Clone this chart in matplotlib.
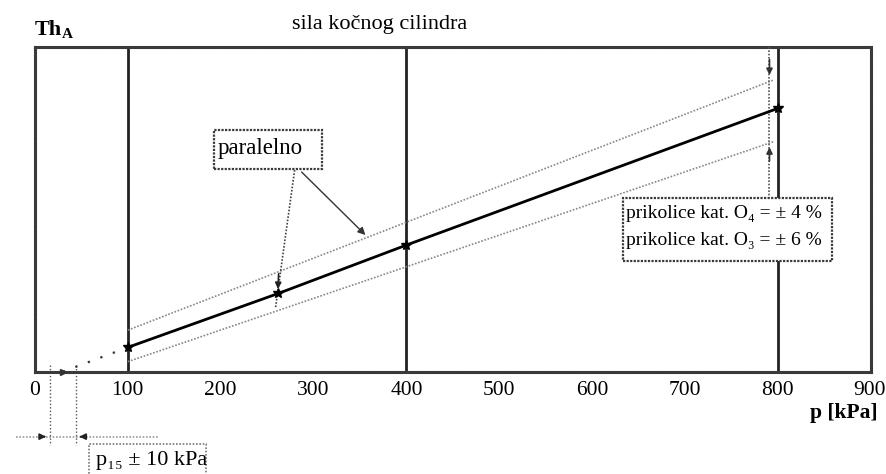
import matplotlib
matplotlib.use("Agg")
import matplotlib.pyplot as plt
from matplotlib.patches import Rectangle

plt.rcParams['font.family'] = ['Liberation Serif', 'DejaVu Serif']

# ---- data ----
p_main = [100, 262, 400, 800]
th_main = [7.5, 24.1, 39.0, 81.1]
p_ext = [30, 100]
th_ext = [0.0, 7.5]
p_tol = [100, 795]
th_upper = [12.8, 89.8]
th_lower = [3.1, 70.8]
p_vlines = [100, 400, 800]
xticks = [0, 100, 200, 300, 400, 500, 600, 700, 800, 900]
p15_band = [15.8, 43.8]
p_tol_mark = 791

title = "sila kočnog cilindra"
ylabel_main = "Th"
ylabel_sub = "A"
xlabel = "p [kPa]"
note_parallel = "paralelno"
legend_lines = ["prikolice kat. O\u2084 = \u00b1 4 %", "prikolice kat. O\u2083 = \u00b1 6 %"]
p15_text = "p\u2081\u2085 \u00b1 10 kPa"

W, H = 886, 474
fig = plt.figure(figsize=(W / 100, H / 100), dpi=100)
ax = fig.add_axes([35 / W, 1 - 371.7 / H, (870.7 - 35) / W, (371.7 - 47) / H])
ax.set_xlim(3, 900)
ax.set_ylim(0, 100)

frame_ls = (0, (1, 0.6))
for s in ax.spines.values():
    s.set_color('#3a3a3a')
    s.set_linewidth(2.2)
    s.set_linestyle(frame_ls)

ax.set_yticks([])
ax.set_xticks(xticks)
ax.set_xticklabels([str(t) for t in xticks], fontsize=15.5)
ax.tick_params(axis='x', length=0, pad=7)
lbls = ax.get_xticklabels()
lbls[-1].set_horizontalalignment('right')
lbls[-1].set_x(xticks[-1])
import matplotlib.transforms as mtrans
lbls[-1].set_transform(lbls[-1].get_transform() + mtrans.ScaledTranslation(15 / 100, 0, fig.dpi_scale_trans))

# vertical reference lines
for pv in p_vlines:
    ax.axvline(pv, color='#222222', lw=2.0, zorder=2)

# tolerance lines
ax.plot(p_tol, th_upper, color='#888888', lw=1.2, ls=(0, (1, 1)), zorder=3)
ax.plot(p_tol, th_lower, color='#888888', lw=1.2, ls=(0, (1, 1)), zorder=3)

# main line
ax.plot(p_main, th_main, color='black', lw=2.0, zorder=4)
ax.plot(p_main, th_main, ls='none', marker='*', ms=7, color='black', zorder=5)
ax.plot(p_ext, th_ext, color='#333333', lw=1.6, ls=(0, (1, 5)), zorder=4)
ax.plot([p_ext[0]], [th_ext[0]], marker='>', ms=5, color='#333333', clip_on=False, zorder=5)

# tolerance marker at 800
ax.plot([p_tol_mark, p_tol_mark], [100, 53.5], color='#555555', lw=1.2, ls=(0, (1, 1)), zorder=3)
ax.annotate('', xy=(p_tol_mark, 90.5), xytext=(p_tol_mark, 97),
            arrowprops=dict(arrowstyle='-|>', color='#333333', lw=1.2, mutation_scale=9))
ax.annotate('', xy=(p_tol_mark, 70.0), xytext=(p_tol_mark, 64),
            arrowprops=dict(arrowstyle='-|>', color='#333333', lw=1.2, mutation_scale=9))

# "paralelno" box and arrows
ax.add_patch(Rectangle((193, 62.4), 116, 12.0, fc='white', ec='#3a3a3a', lw=1.6, ls=frame_ls, zorder=6))
ax.text(197, 68.6, note_parallel, fontsize=16.5, va='center', ha='left', zorder=7)
ax.plot([279.6, 259], [62.1, 19.6], color='#444444', lw=1.2, ls=(0, (1, 1)), zorder=3)
ax.annotate('', xy=(261.5, 24.6), xytext=(262.5, 31),
            arrowprops=dict(arrowstyle='-|>', color='#222222', lw=1.2, mutation_scale=9))
ax.annotate('', xy=(358, 41.5), xytext=(285, 62.1),
            arrowprops=dict(arrowstyle='-|>', color='#333333', lw=1.0, mutation_scale=11))

# legend box
ax.add_patch(Rectangle((633, 34.1), 225, 19.4, fc='white', ec='#3a3a3a', lw=1.6, ls=frame_ls, zorder=6))
ax.text(637, 48.6, legend_lines[0], fontsize=14, va='center', ha='left', zorder=7)
ax.text(637, 40.3, legend_lines[1], fontsize=14, va='center', ha='left', zorder=7)

# p15 bracket below the axis
ax.plot([-20.6, 132], [-20, -20], color='#999999', lw=1.2, ls=(0, (1, 1)), clip_on=False)
for pb in p15_band:
    ax.plot([pb, pb], [2, -22.6], color='#555555', lw=1.0, ls=(0, (1, 1.5)), clip_on=False)
ax.annotate('', xy=(p15_band[0] - 1, -20), xytext=(p15_band[0] - 9, -20), annotation_clip=False,
            arrowprops=dict(arrowstyle='-|>', color='#222222', lw=1.2, mutation_scale=9))
ax.annotate('', xy=(p15_band[1] + 1, -20), xytext=(p15_band[1] + 9, -20), annotation_clip=False,
            arrowprops=dict(arrowstyle='-|>', color='#222222', lw=1.2, mutation_scale=9))
ax.add_patch(Rectangle((58, -34), 126, 11.7, fc='white', ec='#777777', lw=1.2, ls=(0, (1, 1)),
                       clip_on=False, zorder=6))
ax.text(65.6, -27.3, p15_text, fontsize=16, va='center', ha='left', clip_on=False, zorder=7)

# titles / labels
fig.text(380 / W, 1 - 24 / H, title, fontsize=16, ha='center', va='center')
fig.text(35 / W, 1 - 30 / H, ylabel_main, fontsize=16, fontweight='bold', ha='left', va='center')
fig.text(62 / W, 1 - 35 / H, ylabel_sub, fontsize=11, fontweight='bold', ha='left', va='center')
fig.text(878 / W, 1 - 413 / H, xlabel, fontsize=15.5, fontweight='bold', ha='right', va='center')

fig.savefig('out.png', dpi=100)
